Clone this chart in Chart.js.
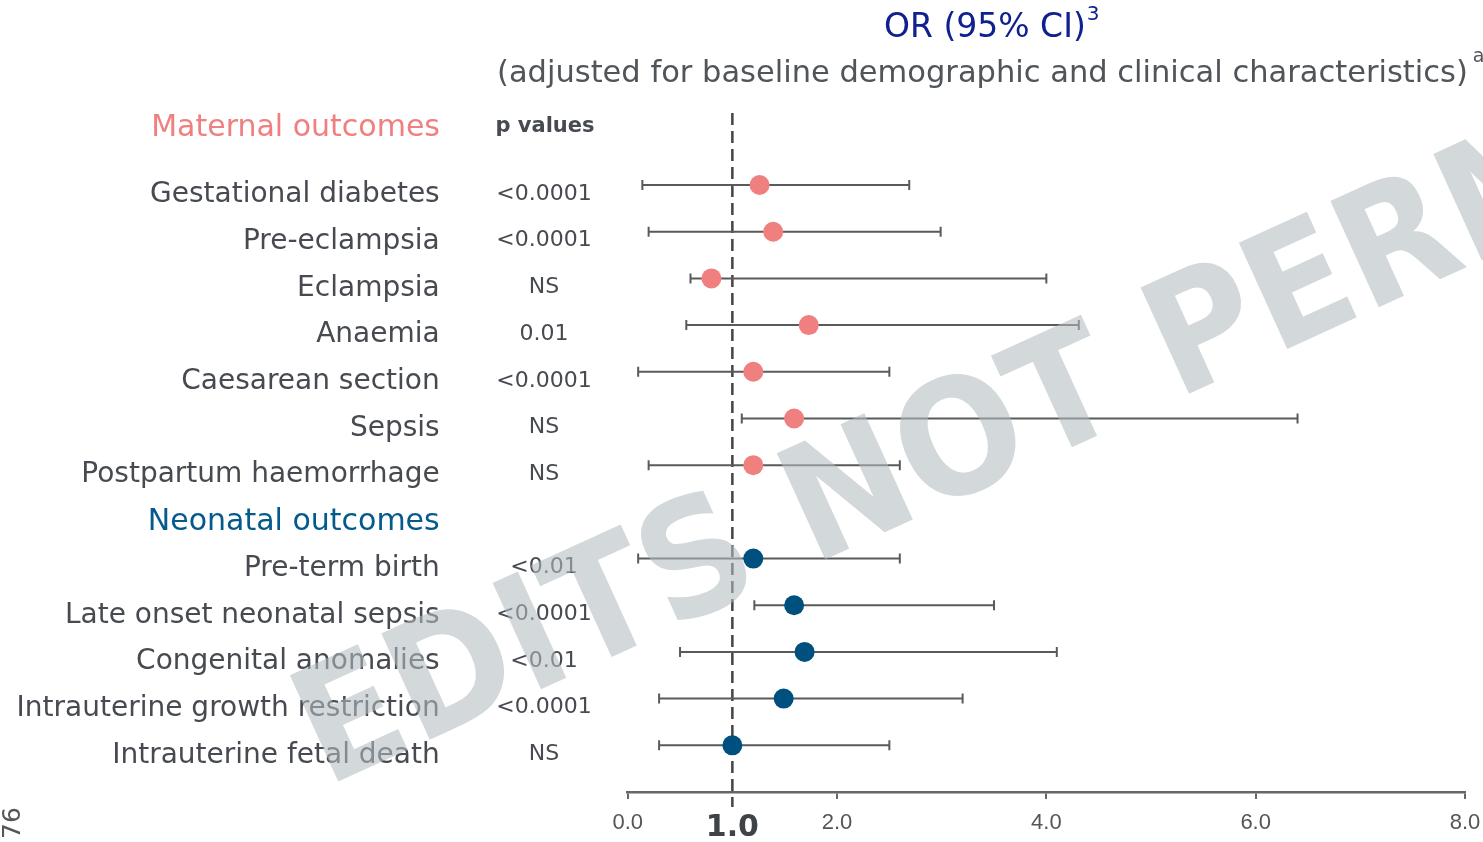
<!DOCTYPE html>
<html>
<head>
<meta charset="utf-8">
<script src="https://cdn.jsdelivr.net/npm/chart.js@4"></script>
<style>
  html, body { margin: 0; padding: 0; background: #fff; }
  #wrap { width: 1483px; height: 842px; }
</style>
</head>
<body>
<div id="wrap"><canvas id="forestChart"></canvas></div>
<script>
// rows top to bottom; index 7 is the neonatal group header
const rowLabels = ['Gestational diabetes', 'Pre-eclampsia', 'Eclampsia', 'Anaemia', 'Caesarean section', 'Sepsis',
  'Postpartum haemorrhage', 'Neonatal outcomes', 'Pre-term birth', 'Late onset neonatal sepsis',
  'Congenital anomalies', 'Intrauterine growth restriction', 'Intrauterine fetal death'];
const rowGroup = ['maternal', 'maternal', 'maternal', 'maternal', 'maternal', 'maternal', 'maternal',
  'header', 'neonatal', 'neonatal', 'neonatal', 'neonatal', 'neonatal'];
const pValues = ['<0.0001', '<0.0001', 'NS', '0.01', '<0.0001', 'NS', 'NS', '', '<0.01', '<0.0001', '<0.01', '<0.0001', 'NS'];
const oddsRatio = [1.26, 1.39, 0.80, 1.73, 1.20, 1.59, 1.20, null, 1.20, 1.59, 1.69, 1.49, 1.00];
const ciLow = [0.14, 0.20, 0.60, 0.56, 0.10, 1.09, 0.20, null, 0.10, 1.21, 0.50, 0.30, 0.30];
const ciHigh = [2.69, 2.99, 4.00, 4.31, 2.50, 6.40, 2.60, null, 2.60, 3.50, 4.10, 3.20, 2.50];
const xTicks = [0, 1, 2, 4, 6, 8];
const refValue = 1.0;

const colors = { maternal: '#F08080', neonatal: '#00507F', header: '#045A8D' };
const textGrey = '#474B51';

const rowTicks = scale => { scale.ticks = rowLabels.map((_, i) => ({ value: i })); };

// whiskers, one small line per row
const whiskers = [];
rowLabels.forEach((_, i) => {
  if (oddsRatio[i] === null) return;
  whiskers.push({
    data: [{ x: ciLow[i], y: i }, { x: ciHigh[i], y: i }],
    showLine: true,
    borderColor: '#5A5A5A',
    borderWidth: 2,
    pointStyle: 'line',
    rotation: 90,
    pointRadius: 5,
    pointBorderColor: '#5A5A5A',
    pointBorderWidth: 2,
    order: 2
  });
});

const pointData = [];
const pointColors = [];
rowLabels.forEach((_, i) => {
  if (oddsRatio[i] === null) return;
  pointData.push({ x: oddsRatio[i], y: i });
  pointColors.push(colors[rowGroup[i]]);
});

const refLine = {
  id: 'refLine',
  beforeDatasetsDraw(chart) {
    const { ctx, chartArea, scales } = chart;
    const x = scales.x.getPixelForValue(refValue);
    ctx.save();
    ctx.strokeStyle = '#444';
    ctx.lineWidth = 2.5;
    ctx.setLineDash([12, 6]);
    ctx.beginPath();
    ctx.moveTo(x, chartArea.top);
    ctx.lineTo(x, chartArea.bottom + 15);
    ctx.stroke();
    ctx.restore();
  }
};

const decorations = {
  id: 'decorations',
  afterDraw(chart) {
    const ctx = chart.ctx;
    ctx.save();
    // headings
    ctx.textBaseline = 'alphabetic';
    ctx.textAlign = 'left';
    ctx.fillStyle = '#10208E';
    ctx.font = '33px "DejaVu Sans"';
    const t1 = 'OR (95% CI)';
    ctx.fillText(t1, 884, 37);
    const w1 = ctx.measureText(t1).width;
    ctx.font = '20px "DejaVu Sans"';
    ctx.fillText('3', 884 + w1 + 1, 20);

    ctx.fillStyle = '#50555A';
    ctx.font = '30.5px "DejaVu Sans"';
    const t2 = '(adjusted for baseline demographic and clinical characteristics)';
    const w2 = Math.min(ctx.measureText(t2).width, 975);
    ctx.fillText(t2, 497, 82, 975);
    ctx.font = '19px "DejaVu Sans"';
    ctx.fillText('a', 497 + w2 + 5, 62);

    ctx.textAlign = 'right';
    ctx.fillStyle = colors.maternal;
    ctx.font = '30px "DejaVu Sans"';
    ctx.fillText('Maternal outcomes', 440, 136);

    ctx.textAlign = 'center';
    ctx.fillStyle = textGrey;
    ctx.font = 'bold 21px "DejaVu Sans"';
    ctx.fillText('p values', 545, 132);

    // page number
    ctx.save();
    ctx.translate(13, 823);
    ctx.rotate(-Math.PI / 2);
    ctx.fillStyle = '#555';
    ctx.font = '25px "DejaVu Sans"';
    ctx.textBaseline = 'middle';
    ctx.fillText('76', 0, 0);
    ctx.restore();

    // watermark over everything
    ctx.save();
    ctx.font = 'bold 160px "DejaVu Sans"';
    const sx = 935 / ctx.measureText('EDITS NOT ').width;
    ctx.translate(326, 787);
    ctx.rotate(-24.5 * Math.PI / 180);
    ctx.scale(sx, 1);
    ctx.textAlign = 'left';
    ctx.textBaseline = 'alphabetic';
    ctx.fillStyle = 'rgba(180, 187, 191, 0.58)';
    ctx.fillText('EDITS NOT PERMITTED', 0, 0);
    ctx.restore();

    ctx.restore();
  }
};

new Chart(document.getElementById('forestChart'), {
  type: 'scatter',
  data: {
    datasets: [
      {
        data: pointData,
        backgroundColor: pointColors,
        borderWidth: 0,
        pointRadius: 10,
        pointHoverRadius: 10,
        order: 1
      },
      ...whiskers
    ]
  },
  options: {
    responsive: true,
    maintainAspectRatio: false,
    animation: false,
    layout: { padding: { top: 113, right: 18, bottom: 0, left: 0 } },
    plugins: {
      legend: { display: false },
      tooltip: { enabled: false }
    },
    scales: {
      x: {
        type: 'linear',
        min: 0,
        max: 8,
        afterBuildTicks: scale => { scale.ticks = xTicks.map(v => ({ value: v })); },
        afterFit: scale => {
          scale.height = 50;
          scale.paddingLeft = 0;
          scale.paddingRight = 0;
        },
        border: { display: true, color: '#666', width: 2.5 },
        grid: {
          drawOnChartArea: false,
          tickLength: 7,
          lineWidth: 2,
          color: c => (c.tick && c.tick.value === refValue ? 'rgba(0,0,0,0)' : '#666'),
          tickColor: c => (c.tick && c.tick.value === refValue ? 'rgba(0,0,0,0)' : '#666')
        },
        ticks: {
          padding: 11,
          maxRotation: 0,
          autoSkip: false,
          callback: v => v.toFixed(1),
          color: c => (c.tick && c.tick.value === refValue ? '#3F4347' : '#555'),
          font: c => (c.tick && c.tick.value === refValue
            ? { family: 'DejaVu Sans', size: 30, weight: 'bold' }
            : { family: 'Liberation Sans', size: 22 })
        }
      },
      y: {
        type: 'linear',
        position: 'left',
        reverse: true,
        min: -1.543,
        max: 13,
        weight: 2,
        afterBuildTicks: rowTicks,
        afterFit: scale => { scale.width = 457.7; },
        border: { display: false },
        grid: { display: false, drawTicks: false },
        ticks: {
          padding: 18,
          labelOffset: 10,
          autoSkip: false,
          callback: (v, i) => rowLabels[i],
          color: c => (rowGroup[c.index] === 'header' ? colors.header : textGrey),
          font: c => ({ family: 'DejaVu Sans', size: rowGroup[c.index] === 'header' ? 30 : 28 })
        }
      },
      yp: {
        type: 'linear',
        position: 'left',
        reverse: true,
        min: -1.543,
        max: 13,
        weight: 1,
        afterBuildTicks: rowTicks,
        afterFit: scale => { scale.width = 170; },
        border: { display: false },
        grid: { display: false, drawTicks: false },
        ticks: {
          padding: 36,
          labelOffset: 9,
          crossAlign: 'center',
          autoSkip: false,
          callback: (v, i) => pValues[i],
          color: textGrey,
          font: { family: 'DejaVu Sans', size: 22 }
        }
      }
    }
  },
  plugins: [refLine, decorations]
});
</script>
</body>
</html>
